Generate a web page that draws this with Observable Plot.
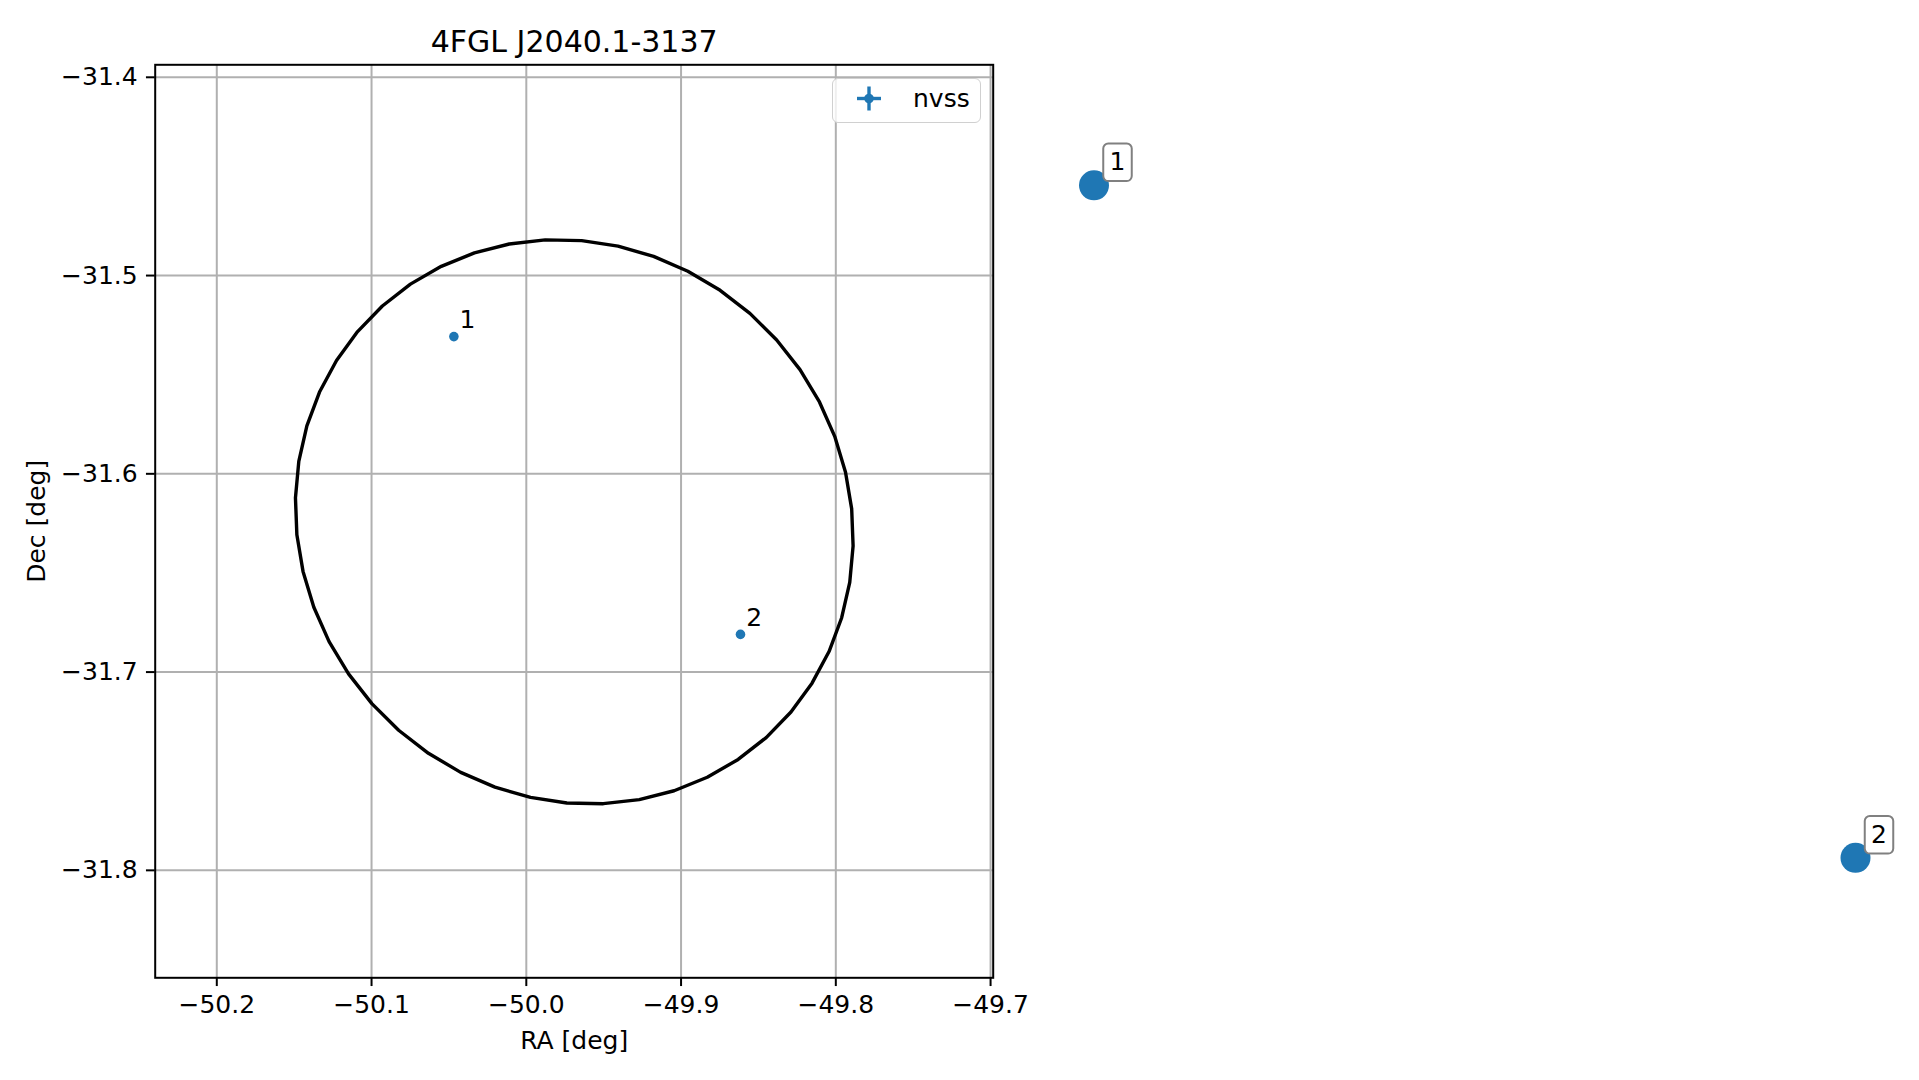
<!DOCTYPE html>
<html><head><meta charset="utf-8">
<script src="https://cdn.jsdelivr.net/npm/d3@7"></script>
<script src="https://cdn.jsdelivr.net/npm/@observablehq/plot@0.6"></script>
<style>
html,body{margin:0;padding:0;background:#fff;}
#wrap{position:relative;width:1919px;height:1080px;overflow:hidden;font-family:"DejaVu Sans",sans-serif;}
#wrap > svg{position:absolute;left:0;top:0;}
#legend{position:absolute;left:832px;top:78px;width:149px;height:45px;box-sizing:border-box;border:1.8px solid #d0d0d0;border-radius:6px;background:rgba(255,255,255,0.8);}
#legend svg{position:absolute;left:0;top:0;}
</style></head><body><div id="wrap"></div>
<script>
// ---- data ----
const chartTitle = "4FGL J2040.1-3137";
const xLabel = "RA [deg]";
const yLabel = "Dec [deg]";
const xTicks = [-50.2, -50.1, -50.0, -49.9, -49.8, -49.7];
const yTicks = [-31.4, -31.5, -31.6, -31.7, -31.8];
const srcIds = ["1", "2"];
const srcRA = [-50.0468, -49.8616];
const srcDec = [-31.5308, -31.6810];
const seriesName = "nvss";
// 4FGL error ellipse parameters (centre, semi-axes, small tilt terms)
const ellipseCenter = [-49.969, -31.6242];
const ellipseAxes = [0.1801, 0.1423];
const ellipseTilt = [0.007, -0.0028];
const ellipseVertices = 48;

// ---- build ----
const sources = srcIds.map((id, i) => ({id, ra: srcRA[i], dec: srcDec[i]}));
const ellipse = d3.range(ellipseVertices + 1).map(i => {
  const t = 2 * Math.PI * (i + 0.5) / ellipseVertices;
  return {
    ra: ellipseCenter[0] + ellipseAxes[0] * Math.cos(t) - ellipseTilt[0] * Math.sin(t),
    dec: ellipseCenter[1] + ellipseAxes[1] * Math.sin(t) + ellipseTilt[1] * Math.cos(t)
  };
});
const fmt = d3.format(".1f");
const blue = "#1f77b4";
const FS = 25;

const main = Plot.plot({
  width: 1070, height: 1080,
  marginLeft: 154.7, marginRight: 77.3, marginTop: 64.3, marginBottom: 102.7,
  style: {fontFamily: "DejaVu Sans", fontSize: FS + "px", color: "#000", background: "transparent", maxWidth: "none"},
  x: {domain: [-50.2398, -49.6983], label: null},
  y: {domain: [-31.8542, -31.3937], label: null},
  marks: [
    Plot.gridX(xTicks, {stroke: "#b0b0b0", strokeOpacity: 1, strokeWidth: 2}),
    Plot.gridY(yTicks, {stroke: "#b0b0b0", strokeOpacity: 1, strokeWidth: 2}),
    Plot.line(ellipse, {x: "ra", y: "dec", stroke: "black", strokeWidth: 3.4, curve: "linear"}),
    Plot.dot(sources, {x: "ra", y: "dec", r: 4.8, fill: blue, stroke: "none"}),
    Plot.text(sources, {x: "ra", y: "dec", text: "id", dx: 5.7, dy: -16.7, textAnchor: "start", lineAnchor: "middle", fontSize: FS, fill: "black"}),
    Plot.axisX(xTicks, {tickSize: 8.75, tickPadding: 8.75, strokeWidth: 2, tickFormat: fmt, label: null, fontSize: FS}),
    Plot.axisY(yTicks, {tickSize: 8.75, tickPadding: 8.75, strokeWidth: 2, tickFormat: fmt, label: null, fontSize: FS}),
    Plot.frame({stroke: "black", strokeWidth: 2}),
    Plot.text([chartTitle], {frameAnchor: "top", dy: -22.5, textAnchor: "middle", lineAnchor: "middle", fontSize: 30, fill: "black"}),
    Plot.text([xLabel], {frameAnchor: "bottom", dy: 63, textAnchor: "middle", lineAnchor: "middle", fontSize: FS, fill: "black"}),
    Plot.text([yLabel], {frameAnchor: "left", dx: -118, rotate: -90, textAnchor: "middle", lineAnchor: "middle", fontSize: FS, fill: "black"})
  ]
});

// rounded label box symbol
const roundBox = {
  draw(ctx) {
    const w = 28.5, h = 37.5, r = 5, x0 = -w / 2, y0 = -h / 2;
    ctx.moveTo(x0 + r, y0);
    ctx.lineTo(x0 + w - r, y0);
    ctx.arcTo(x0 + w, y0, x0 + w, y0 + r, r);
    ctx.lineTo(x0 + w, y0 + h - r);
    ctx.arcTo(x0 + w, y0 + h, x0 + w - r, y0 + h, r);
    ctx.lineTo(x0 + r, y0 + h);
    ctx.arcTo(x0, y0 + h, x0, y0 + h - r, r);
    ctx.lineTo(x0, y0 + r);
    ctx.arcTo(x0, y0, x0 + r, y0, r);
    ctx.closePath();
  }
};

const overlay = Plot.plot({
  width: 1919, height: 1080, margin: 0,
  style: {fontFamily: "DejaVu Sans", fontSize: FS + "px", background: "transparent", maxWidth: "none"},
  x: {domain: [srcRA[0], srcRA[1]], range: [1093.5, 1855], axis: null},
  y: {domain: [srcDec[0], srcDec[1]], range: [184.8, 857.3], axis: null},
  marks: [
    Plot.dot(sources, {x: "ra", y: "dec", r: 15, fill: blue, stroke: "none"}),
    Plot.dot(sources, {x: "ra", y: "dec", symbol: roundBox, r: 10, dx: 23.5, dy: -23, fill: "white", stroke: "#808080", strokeWidth: 2}),
    Plot.text(sources, {x: "ra", y: "dec", text: "id", dx: 23.5, dy: -23, textAnchor: "middle", lineAnchor: "middle", fontSize: FS, fill: "black"})
  ]
});

const wrap = document.getElementById("wrap");
wrap.appendChild(main);
wrap.appendChild(overlay);
overlay.style.pointerEvents = "none";

// legend
const legend = document.createElement("div");
legend.id = "legend";
legend.innerHTML = `<svg width="149" height="45" xmlns="http://www.w3.org/2000/svg">
  <line x1="24" x2="48" y1="19.5" y2="19.5" stroke="${blue}" stroke-width="3.4"/>
  <line x1="36" x2="36" y1="7.5" y2="31.5" stroke="${blue}" stroke-width="3.4"/>
  <circle cx="36" cy="19.5" r="4.8" fill="${blue}"/>
  <text x="80" y="28" font-family="DejaVu Sans" font-size="${FS}" fill="#000">${seriesName}</text>
</svg>`;
wrap.appendChild(legend);
</script>
</body></html>
